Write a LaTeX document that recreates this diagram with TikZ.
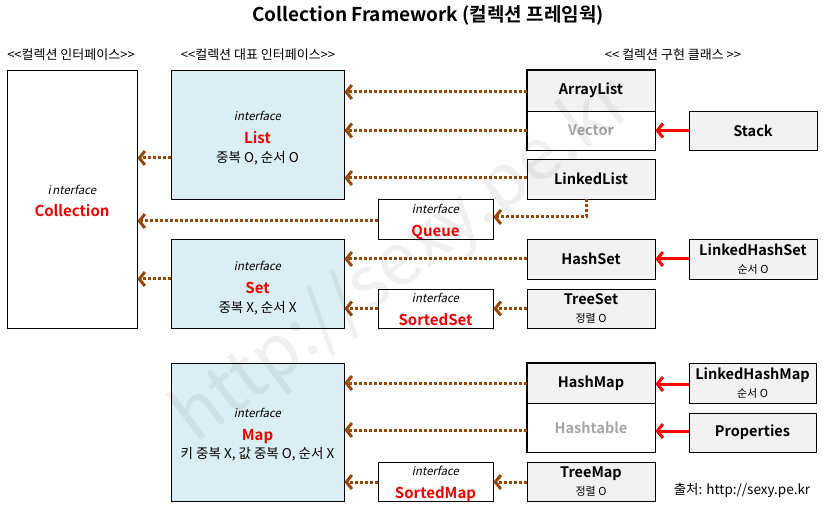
\documentclass[tikz,border=0pt]{standalone}
\usepackage{fontspec}
\setmainfont{Noto Sans CJK KR}[BoldFont={Noto Sans CJK KR Bold},ItalicFont={Noto Sans CJK KR},ItalicFeatures={FakeSlant=0.2}]
\usetikzlibrary{arrows.meta}
\definecolor{brn}{RGB}{151,72,6}
\definecolor{cred}{RGB}{235,0,0}
\definecolor{lblue}{RGB}{218,238,243}
\definecolor{boxgray}{RGB}{242,242,242}
\definecolor{fade}{RGB}{166,166,166}
\newcommand{\ifc}{{\itshape\fontsize{11.5}{20}\selectfont interface}}
\newcommand{\nm}[1]{{\bfseries\color{cred}\fontsize{15}{20}\selectfont #1}}
\newcommand{\nt}[1]{{\fontsize{13.5}{20}\selectfont #1}}
\newcommand{\smnt}[1]{{\fontsize{11}{20}\selectfont #1}}
\begin{document}
\begin{tikzpicture}[x=1pt,y=-1pt,
  box/.style={draw, line width=0.9pt, inner sep=0pt, align=center, font=\fontsize{12}{20}\selectfont},
  txt/.style={inner sep=0pt, align=center, font=\fontsize{12}{20}\selectfont},
  bluebox/.style={box, fill=lblue, minimum width=173pt},
  ifbox/.style={box, fill=white, minimum width=115pt, minimum height=39pt},
  clsbox/.style={box, fill=boxgray, minimum width=128pt, font=\bfseries\fontsize{14.5}{19}\selectfont},
  hdr/.style={font=\fontsize{13}{15}\selectfont, inner sep=0pt},
  dep/.style={draw=brn, line width=3pt, dash pattern=on 3pt off 2pt, -{Straight Barb[length=5.5pt,width=14pt]}},
  ext/.style={draw=red, line width=3pt, -{Straight Barb[length=5.5pt,width=14pt]}}
]
\useasboundingbox (0,0) rectangle (827,518);
\fill[white] (0,0) rectangle (827,518);

% title and headers
\node[font=\bfseries\fontsize{19}{22}\selectfont, inner sep=0pt] (title) at (428,15) {Collection Framework (컬렉션 프레임웍)};
\node[hdr] (h1) at (71,55) {{<}{<}컬렉션 인터페이스{>}{>}};
\node[hdr] (h2) at (258,55) {{<}{<}컬렉션 대표 인터페이스{>}{>}};
\node[hdr] (h3) at (673,55) {{<}{<} 컬렉션 구현 클래스 {>}{>}};

% interfaces (boxes)
\node[box, fill=white, minimum width=130pt, minimum height=258pt] (coll) at (72,199) {};
\node[bluebox, minimum height=129pt] (list) at (257.5,134.5) {};
\node[bluebox, minimum height=89pt] (set) at (257.5,283.5) {};
\node[bluebox, minimum height=138pt] (map) at (257.5,432) {};
\node[ifbox, minimum height=40pt] (queue) at (435.5,219) {};
\node[ifbox] (sortedset) at (435.5,308.5) {};
\node[ifbox] (sortedmap) at (435.5,481.5) {};
% interfaces (texts)
\node[txt] (coll-t) at ([yshift=-1.5pt]coll.center) {{\itshape\fontsize{11.5}{20}\selectfont i\hspace{1.5pt}nterface}\\[2pt]\nm{Collection}};
\node[txt] (list-t) at ([yshift=-4pt]list.center) {\ifc\\[3pt]\nm{List}\\[-1pt]\nt{중복 O, 순서 O}};
\node[txt] (set-t) at ([yshift=-4.5pt]set.center) {\ifc\\[3pt]\nm{Set}\\[-1pt]\nt{중복 X, 순서 X}};
\node[txt] (map-t) at ([yshift=-3pt]map.center) {\ifc\\[3pt]\nm{Map}\\[-2pt]\nt{키 중복 X, 값 중복 O, 순서 X}};
\node[txt] (queue-t) at ([yshift=-2.5pt]queue.center) {\ifc\\[3pt]\nm{Queue}};
\node[txt] (sortedset-t) at ([yshift=-1pt]sortedset.center) {\ifc\\[3pt]\nm{SortedSet}};
\node[txt] (sortedmap-t) at ([yshift=-2.5pt]sortedmap.center) {\ifc\\[3pt]\nm{SortedMap}};

% classes
\node[clsbox, minimum height=41pt] (arraylist) at (591,90.5) {ArrayList};
\node[clsbox, fill=white, minimum height=39pt, text=fade] (vector) at (591,130.5) {Vector};
\node[clsbox, minimum height=39pt] (stack) at (753,130.5) {Stack};
\node[clsbox, minimum height=40pt] (linkedlist) at (591,179) {LinkedList};
\node[clsbox, minimum height=40pt] (hashset) at (591,259) {HashSet};
\node[clsbox, minimum height=40pt] (lhs) at (753,259) {\raisebox{-1.5pt}{LinkedHashSet}\\\smnt{\mdseries 순서 O}};
\node[clsbox, minimum height=39pt] (treeset) at (591,308.5) {\raisebox{-1pt}{TreeSet}\\\smnt{\mdseries 정렬 O}};
\node[clsbox, minimum height=40pt] (hashmap) at (591,383) {HashMap};
\node[clsbox, fill=white, minimum height=49pt, text=fade] (hashtable) at (591,427.5) {\raisebox{-4pt}{Hashtable}};
\node[clsbox, minimum width=127pt, minimum height=40pt] (lhm) at (752.5,383) {\raisebox{-1.5pt}{LinkedHashMap}\\\smnt{\mdseries 순서 O}};
\node[clsbox, minimum width=127pt, minimum height=39pt] (props) at (752.5,432.5) {Properties};
\node[clsbox, minimum height=39pt] (treemap) at (591,481.5) {\raisebox{-1pt}{TreeMap}\\\smnt{\mdseries 정렬 O}};

% frames and dividers of combined boxes
\draw[line width=0.9pt] (arraylist.north west) rectangle (vector.south east);
\draw[line width=0.6pt, dash pattern=on 2pt off 1pt] (arraylist.south west) -- (arraylist.south east);
\draw[line width=0.9pt] (hashmap.north west) rectangle (hashtable.south east);
\draw[line width=0.6pt, dash pattern=on 2pt off 1pt] (hashmap.south west) -- (hashmap.south east);

% dependency connectors
\draw[dep] (arraylist.west |- 0,92) -- (list.east |- 0,92);
\draw[dep] (vector.west) -- (list.east |- vector.west);
\draw[dep] (linkedlist.west |- 0,178) -- (list.east |- 0,178);
\draw[dep] (list.west |- 0,158) -- (coll.east |- 0,158);
\draw[dep] (queue.west |- 0,221) -- (coll.east |- 0,221);
\draw[dep] (set.west |- 0,279) -- (coll.east |- 0,279);
\draw[dep] ([xshift=-5pt]linkedlist.south) |- (queue.east |- 0,217);
\draw[dep] (hashset.west) -- (set.east |- hashset.west);
\draw[dep] (treeset.west) -- (sortedset.east);
\draw[dep] (sortedset.west) -- (set.east |- sortedset.west);
\draw[dep] (hashmap.west) -- (map.east |- hashmap.west);
\draw[dep] (hashtable.west |- 0,430) -- (map.east |- 0,430);
\draw[dep] (treemap.west |- 0,482) -- (sortedmap.east |- 0,482);
\draw[dep] (sortedmap.west |- 0,482) -- (map.east |- 0,482);

% extension connectors
\draw[ext] (stack.west) -- (vector.east);
\draw[ext] (lhs.west) -- (hashset.east);
\draw[ext] (lhm.west |- 0,384) -- (hashmap.east |- 0,384);
\draw[ext] (props.west |- 0,431) -- (hashtable.east |- 0,431);

% source
\node[font=\fontsize{13.5}{16}\selectfont, inner sep=0pt] (src) at (742,490) {출처: http://sexy.pe.kr};

% watermark
\node[rotate=37, text=black, opacity=0.06, inner sep=0pt, font=\fontsize{72}{80}\selectfont] (wm) at (404,262) {http://sexy.pe.kr};
\end{tikzpicture}
\end{document}
